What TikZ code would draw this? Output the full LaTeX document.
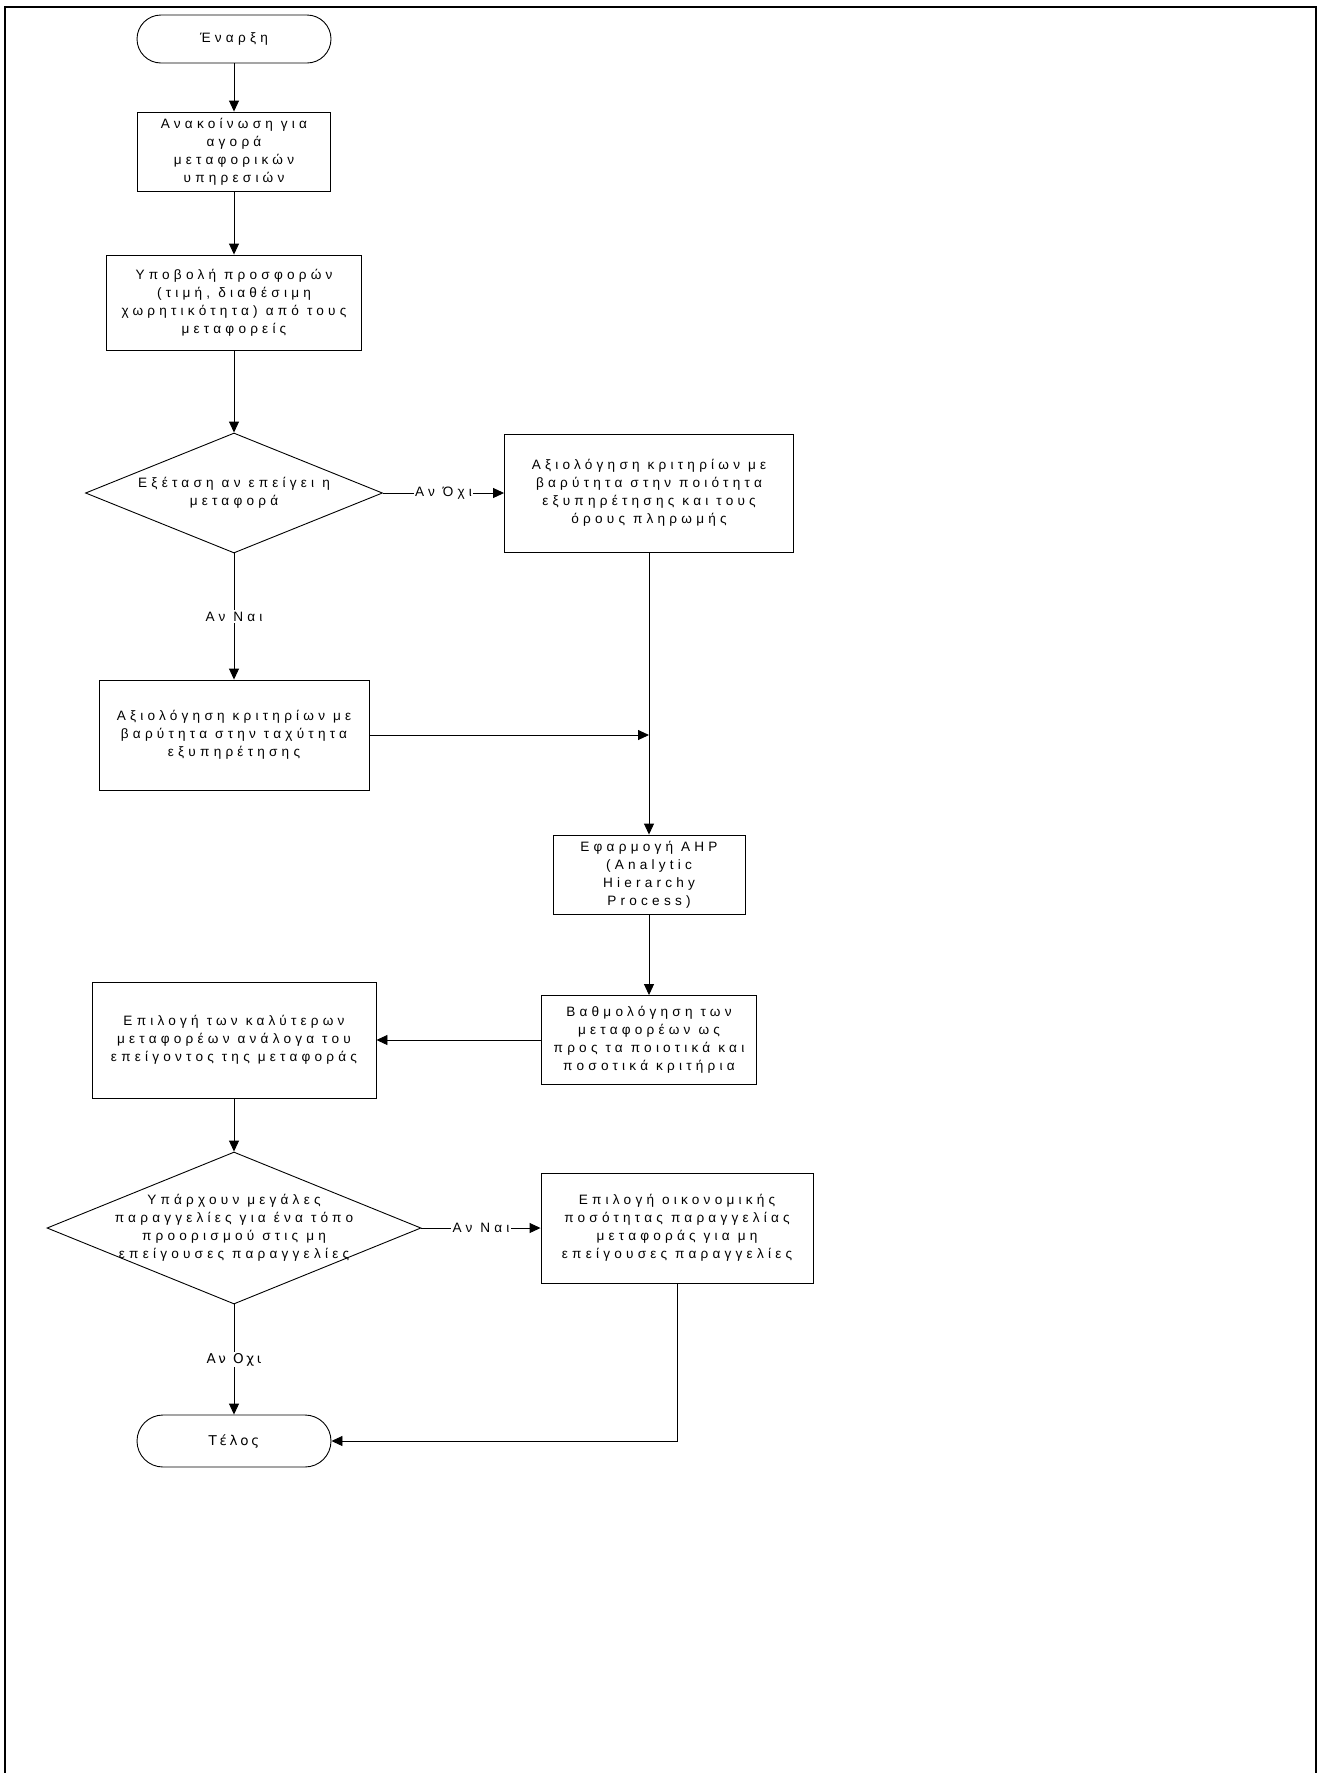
\documentclass[tikz,border=0pt]{standalone}
\usepackage{fontspec}
\setmainfont{Liberation Sans}[LetterSpace=31]
\newfontfamily\endfont{DejaVu Sans}[LetterSpace=20]
\usepackage{tikz}
\usetikzlibrary{shapes.geometric, arrows.meta, positioning, calc}

\begin{document}
\begin{tikzpicture}[x=1pt, y=-1pt,
  box/.style 2 args={rectangle, draw, line width=0.9pt, fill=white,
                     minimum width=#1, minimum height=#2, inner sep=0pt,
                     align=center, font=\fontsize{13.6}{18}\selectfont},
  term/.style 2 args={box={#1}{#2}, rounded corners=#2/2},
  dec/.style 2 args={diamond, draw, line width=0.9pt, fill=white,
                     minimum width=#1, minimum height=#2, inner sep=0pt},
  txt/.style={align=center, inner sep=0pt, font=\fontsize{13.6}{18}\selectfont},
  lbl/.style={fill=white, inner sep=1.5pt, font=\fontsize{13.6}{16}\selectfont},
  ar/.style={-{Triangle[length=11pt, width=10pt]}, line width=0.9pt}
]
  \useasboundingbox (0,0) rectangle (1320,1773);
  \draw[line width=2pt] (5,7) rectangle (1316,1800);

  % ── start and offers ───────────────────────────────────────────────────
  \node[term={194pt}{48pt}] (start) at (234,39) {Έναρξη};
  \node[box={193pt}{79pt}] (ann) at (234,151.5)
    {Ανακοίνωση για\\αγορά\\μεταφορικών\\υπηρεσιών};
  \node[box={255pt}{95pt}] (bids) at (234,302.5)
    {Υποβολή προσφορών\\(τιμή, διαθέσιμη\\χωρητικότητα) από τους\\μεταφορείς};

  % ── urgency check ──────────────────────────────────────────────────────
  \node[dec={297pt}{120pt}] (q1) at (234,493) {};
  \node[txt] at (q1) {Εξέταση αν επείγει η\\μεταφορά};
  \node[box={289pt}{118pt}] (qual) at (649,493)
    {Αξιολόγηση κριτηρίων με\\βαρύτητα στην ποιότητα\\εξυπηρέτησης και τους\\όρους πληρωμής};
  \node[box={270pt}{110pt}] (speed) at (234,735)
    {Αξιολόγηση κριτηρίων με\\βαρύτητα στην ταχύτητα\\εξυπηρέτησης};
  \coordinate (join) at (649,735);

  % ── AHP and ranking ────────────────────────────────────────────────────
  \node[box={192pt}{79pt}] (ahp) at (649,874.5)
    {Εφαρμογή AHP\\(Analytic\\Hierarchy\\Process)};
  \node[box={215pt}{89pt}] (rank) at (649,1040)
    {Βαθμολόγηση των\\μεταφορέων ως\\προς τα ποιοτικά και\\ποσοτικά κριτήρια};
  \node[box={284pt}{116pt}] (best) at (234,1040)
    {Επιλογή των καλύτερων\\μεταφορέων ανάλογα του\\επείγοντος της μεταφοράς};

  % ── large orders check ─────────────────────────────────────────────────
  \node[dec={374pt}{152pt}] (q2) at (234,1228) {};
  \node[txt] at (q2)
    {Υπάρχουν μεγάλες\\παραγγελίες για ένα τόπο\\προορισμού στις μη\\επείγουσες παραγγελίες};
  \node[box={272pt}{110pt}] (econ) at (677,1228)
    {Επιλογή οικονομικής\\ποσότητας παραγγελίας\\μεταφοράς για μη\\επείγουσες παραγγελίες};
  \node[term={194pt}{52pt}, font=\endfont\fontsize{13.5}{16}\selectfont] (end) at (234,1441) {Τέλος};

  % ── connectors ─────────────────────────────────────────────────────────
  \draw[ar] (start) -- (ann);
  \draw[ar] (ann)   -- (bids);
  \draw[ar] (bids)  -- (q1);
  \draw[ar] (q1)    -- node[lbl] {Αν Όχι} (qual);
  \draw[ar] (q1)    -- node[lbl] {Αν Ναι} (speed);
  \draw[ar] (qual)  -- (ahp);
  \draw[ar] (speed) -- (join);
  \draw[ar] (ahp)   -- (rank);
  \draw[ar] (rank)  -- (best);
  \draw[ar] (best)  -- (q2);
  \draw[ar] (q2)    -- node[lbl] {Αν Ναι} (econ);
  \draw[ar] (q2)    -- node[lbl, font=\endfont\fontsize{13.5}{16}\selectfont] {Αν Οχι} (end);
  \draw[ar] (econ)  |- (end);
\end{tikzpicture}
\end{document}
